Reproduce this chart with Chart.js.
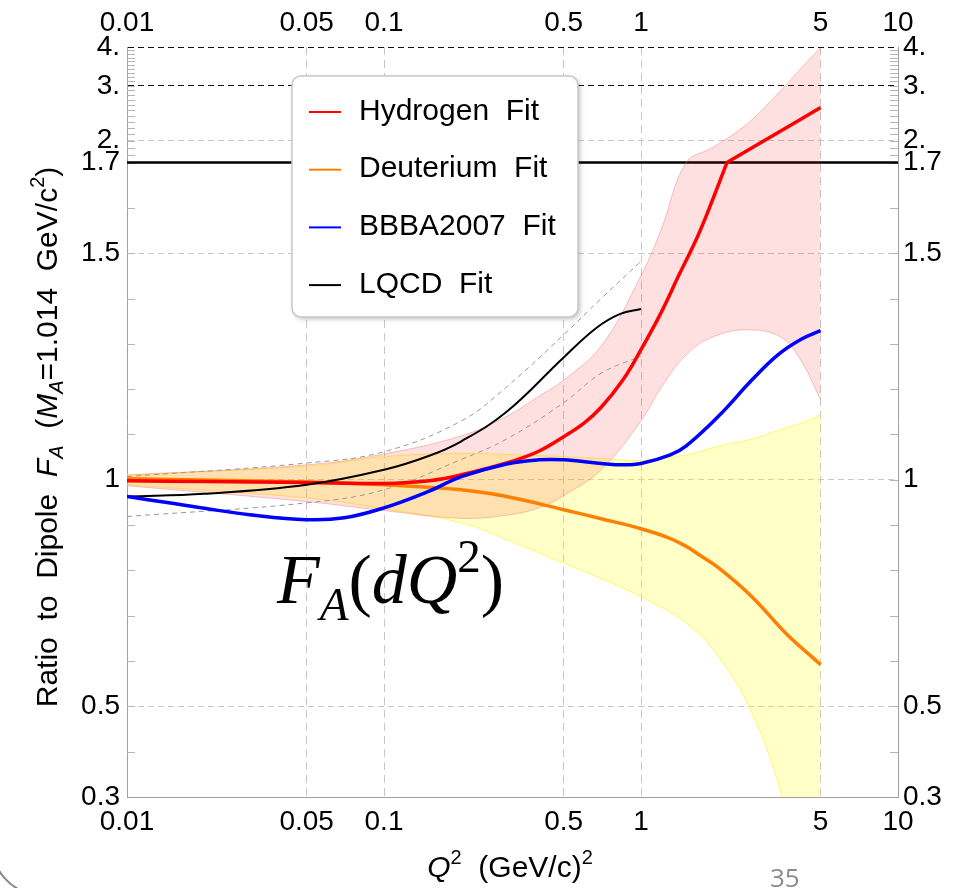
<!DOCTYPE html>
<html>
<head>
<meta charset="utf-8">
<script src="https://cdn.jsdelivr.net/npm/chart.js@4/dist/chart.umd.min.js"></script>
<style>
  body { margin: 0; background: #fff; }
  #wrap { width: 963px; height: 888px; }
</style>
</head>
<body>
<div id="wrap"><canvas id="chart" width="963" height="888"></canvas></div>
<script>
// axis ticks
const xTickValues = [0.01, 0.05, 0.1, 0.5, 1, 5, 10];
const xTickLabels = ["0.01", "0.05", "0.1", "0.5", "1", "5", "10"];
const yTickValues = [0.3, 0.5, 1, 1.5, 1.7, 2, 3, 4];
const yTickLabels = ["0.3", "0.5", "1", "1.5", "1.7", "2.", "3.", "4."];

// Hydrogen fit and its error band
const hydrogenQ2 = [0.01, 0.02, 0.05, 0.1, 0.15, 0.2, 0.3, 0.4, 0.5, 0.6, 0.7, 0.85, 1, 1.2, 1.4, 1.66, 1.9, 2.16, 3, 4, 5];
const hydrogenRatio = [0.998, 0.996, 0.994, 0.992, 0.998, 1.011, 1.037, 1.063, 1.095, 1.125, 1.16, 1.22, 1.287, 1.37, 1.45, 1.537, 1.618, 1.7, 1.995, 2.29, 2.555];
const hydrogenBandQ2 = [0.01, 0.05, 0.1, 0.2, 0.3, 0.4, 0.5, 0.7, 1, 1.2, 1.5, 1.9, 2.6, 3.5, 4.2, 5];
const hydrogenBandHigh = [1.01, 1.033, 1.057, 1.097, 1.14, 1.184, 1.22, 1.295, 1.45, 1.553, 1.7, 1.9, 2.27, 2.9, 3.42, 3.98];
const hydrogenBandLow = [0.987, 0.952, 0.932, 0.915, 0.922, 0.938, 0.965, 1.022, 1.13, 1.204, 1.276, 1.315, 1.331, 1.315, 1.262, 1.177];

// Deuterium fit and its error band
const deuteriumQ2 = [0.01, 0.05, 0.1, 0.2, 0.3, 0.5, 0.7, 1, 1.28, 1.5, 1.7, 2, 2.7, 3.65, 5];
const deuteriumRatio = [1.002, 0.995, 0.989, 0.978, 0.963, 0.934, 0.914, 0.892, 0.872, 0.853, 0.833, 0.806, 0.742, 0.662, 0.592];
const deuteriumBandQ2 = [0.01, 0.05, 0.1, 0.2, 0.3, 0.5, 0.7, 1, 1.5, 2, 2.7, 3.55, 4.2, 5];
const deuteriumBandHigh = [1.011, 1.03, 1.051, 1.058, 1.056, 1.051, 1.047, 1.043, 1.055, 1.074, 1.09, 1.112, 1.125, 1.143];
const deuteriumBandLow = [0.989, 0.96, 0.936, 0.905, 0.868, 0.816, 0.782, 0.742, 0.684, 0.61, 0.486, 0.3, 0.12, -0.15];

// BBBA2007
const bbbaQ2 = [0.01, 0.015, 0.02, 0.03, 0.05, 0.07, 0.1, 0.15, 0.2, 0.3, 0.4, 0.5, 0.7, 0.85, 1, 1.3, 1.5, 2, 2.7, 3.4, 4.2, 5];
const bbbaRatio = [0.963, 0.948, 0.937, 0.923, 0.912, 0.916, 0.938, 0.975, 1.007, 1.035, 1.044, 1.044, 1.036, 1.033, 1.036, 1.055, 1.075, 1.14, 1.22, 1.275, 1.31, 1.329];

// LQCD fit and its dashed band
const lqcdQ2 = [0.01, 0.02, 0.05, 0.1, 0.15, 0.2, 0.3, 0.5, 0.67, 0.83, 1];
const lqcdRatio = [0.963, 0.969, 0.989, 1.022, 1.053, 1.085, 1.15, 1.27, 1.335, 1.366, 1.377];
const lqcdBandQ2 = [0.01, 0.05, 0.1, 0.2, 0.3, 0.5, 0.7, 1];
const lqcdBandHigh = [1.007, 1.037, 1.062, 1.13, 1.205, 1.32, 1.4, 1.482];
const lqcdBandLow = [0.919, 0.949, 0.978, 1.045, 1.09, 1.17, 1.235, 1.273];

// y axis: linear up to 1.7, compressed (log) above it
const Y_BREAK = 1.7;
const Y_LOG_K = 0.298;
function toAxis(v) {
  return v <= Y_BREAK ? v : Y_BREAK + Y_LOG_K * Math.log(v / Y_BREAK);
}
const Y_MIN = 0.3;
const Y_MAX = toAxis(4);

const SANS = "'Liberation Sans', Arial, sans-serif";
const SERIF = "'Liberation Serif', 'Times New Roman', serif";
Chart.defaults.font.family = SANS;
const tickFont = { family: SANS, size: 28 };

function pts(xs, ys) {
  return xs.map((x, i) => ({ x: x, y: toAxis(ys[i]) }));
}

function curve(label, xs, ys, color, width, order, extra) {
  return Object.assign({
    label: label,
    data: pts(xs, ys),
    borderColor: color,
    borderWidth: width,
    pointRadius: 0,
    fill: false,
    tension: 0.4,
    order: order
  }, extra || {});
}

// the hydrogen line has a corner where it crosses the scale break
const hBreak = hydrogenRatio.indexOf(Y_BREAK) + 1;

const datasets = [
  curve("Deuterium band high", deuteriumBandQ2, deuteriumBandHigh, "rgba(255,245,90,0.9)", 1, 11),
  curve("Deuterium band low", deuteriumBandQ2, deuteriumBandLow, "rgba(255,245,90,0.9)", 1, 11,
    { fill: "-1", backgroundColor: "rgba(255,255,0,0.22)" }),
  curve("Hydrogen band high", hydrogenBandQ2, hydrogenBandHigh, "rgba(240,120,120,0.45)", 1, 10),
  curve("Hydrogen band low", hydrogenBandQ2, hydrogenBandLow, "rgba(240,120,120,0.45)", 1, 10,
    { fill: "-1", backgroundColor: "rgba(255,0,0,0.12)" }),
  curve("LQCD band high", lqcdBandQ2, lqcdBandHigh, "#999", 1, 9, { borderDash: [5, 4] }),
  curve("LQCD band low", lqcdBandQ2, lqcdBandLow, "#999", 1, 9, { borderDash: [5, 4] }),
  curve("Hydrogen Fit", hydrogenQ2.slice(0, hBreak), hydrogenRatio.slice(0, hBreak), "#ff0000", 3.5, 3, { inLegend: true }),
  curve("Hydrogen Fit above break", hydrogenQ2.slice(hBreak - 1), hydrogenRatio.slice(hBreak - 1), "#ff0000", 3.5, 3, { tension: 0 }),
  curve("Deuterium Fit", deuteriumQ2, deuteriumRatio, "#ff8000", 3.5, 4, { inLegend: true }),
  curve("BBBA2007 Fit", bbbaQ2, bbbaRatio, "#0000ff", 3.5, 1, { inLegend: true }),
  curve("LQCD Fit", lqcdQ2, lqcdRatio, "#000000", 2, 2, { inLegend: true })
];

function roundRectPath(ctx, x, y, w, h, r) {
  ctx.beginPath();
  ctx.moveTo(x + r, y);
  ctx.lineTo(x + w - r, y);
  ctx.arcTo(x + w, y, x + w, y + r, r);
  ctx.lineTo(x + w, y + h - r);
  ctx.arcTo(x + w, y + h, x + w - r, y + h, r);
  ctx.lineTo(x + r, y + h);
  ctx.arcTo(x, y + h, x, y + h - r, r);
  ctx.lineTo(x, y + r);
  ctx.arcTo(x, y, x + r, y, r);
  ctx.closePath();
}

function drawRich(ctx, parts, x, y, align) {
  let w = 0;
  parts.forEach(p => { ctx.font = p.font; p.w = ctx.measureText(p.t).width; w += p.w; });
  let cx = align === "center" ? x - w / 2 : x;
  ctx.textAlign = "left";
  ctx.textBaseline = "alphabetic";
  parts.forEach(p => {
    ctx.font = p.font;
    ctx.fillText(p.t, cx, y + (p.dy || 0));
    cx += p.w;
  });
}

const decor = {
  id: "decor",
  beforeDatasetsDraw(chart) {
    const { ctx, chartArea: a, scales } = chart;
    const y = scales.y;
    ctx.save();
    // minor ticks, inside both vertical axes
    ctx.strokeStyle = "#b4b4b4";
    ctx.lineWidth = 1;
    ctx.beginPath();
    for (let k = 4; k < 40; k++) {
      const py = Math.round(y.getPixelForValue(toAxis(k / 10))) + 0.5;
      ctx.moveTo(a.left, py); ctx.lineTo(a.left + 8, py);
      ctx.moveTo(a.right - 8, py); ctx.lineTo(a.right, py);
    }
    ctx.stroke();
    // solid line where the scale changes
    const yb = y.getPixelForValue(Y_BREAK);
    ctx.strokeStyle = "#000";
    ctx.lineWidth = 2.5;
    ctx.beginPath();
    ctx.moveTo(a.left, yb);
    ctx.lineTo(a.right, yb);
    ctx.stroke();
    ctx.restore();
  },
  afterDatasetsDraw(chart) {
    const ctx = chart.ctx;
    const items = chart.data.datasets.filter(d => d.inLegend);
    const bx = 292, by = 76, bw = 286, bh = 241;
    ctx.save();
    ctx.shadowColor = "rgba(0,0,0,0.25)";
    ctx.shadowBlur = 5;
    ctx.shadowOffsetX = 2;
    ctx.shadowOffsetY = 2;
    roundRectPath(ctx, bx, by, bw, bh, 9);
    ctx.fillStyle = "#fff";
    ctx.fill();
    ctx.shadowColor = "transparent";
    ctx.strokeStyle = "#c8c8c8";
    ctx.lineWidth = 1.5;
    ctx.stroke();
    items.forEach((d, i) => {
      const ry = by + 36 + i * 57.7;
      ctx.strokeStyle = d.borderColor;
      ctx.lineWidth = 2;
      ctx.beginPath();
      ctx.moveTo(bx + 17, ry);
      ctx.lineTo(bx + 49, ry);
      ctx.stroke();
      ctx.fillStyle = "#000";
      ctx.font = "30px " + SANS;
      ctx.textAlign = "left";
      ctx.textBaseline = "alphabetic";
      ctx.fillText(d.label.split(" ").join("  "), bx + 67, ry + 7.5);
    });
    ctx.restore();
  },
  afterDraw(chart) {
    const ctx = chart.ctx;
    const n30 = "30px " + SANS, i30 = "italic 30px " + SANS;
    const n20 = "20px " + SANS, i20 = "italic 20px " + SANS;
    ctx.save();
    ctx.fillStyle = "#000";
    // y axis title
    ctx.save();
    ctx.translate(57, 437);
    ctx.rotate(-Math.PI / 2);
    drawRich(ctx, [
      { t: "Ratio  to  Dipole  ", font: n30 },
      { t: "F", font: i30 },
      { t: "A", font: i20, dy: 6 },
      { t: "  (", font: n30 },
      { t: "M", font: i30 },
      { t: "A", font: i20, dy: 6 },
      { t: "=1.014  GeV/", font: n30 },
      { t: "c", font: n30 },
      { t: "2", font: n20, dy: -13 },
      { t: ")", font: n30 }
    ], 0, 0, "center");
    ctx.restore();
    // x axis title
    drawRich(ctx, [
      { t: "Q", font: i30 },
      { t: "2", font: n20, dy: -13 },
      { t: "  (GeV/c)", font: n30 },
      { t: "2", font: n20, dy: -13 }
    ], 510, 877, "center");
    // annotation
    drawRich(ctx, [
      { t: "F", font: "italic 70px " + SERIF },
      { t: "A", font: "italic 47px " + SERIF, dy: 17 },
      { t: "(", font: "70px " + SERIF },
      { t: "d", font: "italic 70px " + SERIF },
      { t: "Q", font: "italic 70px " + SERIF },
      { t: "2", font: "47px " + SERIF, dy: -31 },
      { t: ")", font: "70px " + SERIF }
    ], 277, 603, "left");
    // slide page number and frame corner
    ctx.fillStyle = "#8c8c8c";
    ctx.font = "26px 'Open Sans', sans-serif";
    ctx.fillText("35", 770, 887);
    ctx.strokeStyle = "#888";
    ctx.lineWidth = 2;
    ctx.beginPath();
    ctx.arc(42, 845, 50, Math.PI * 0.98, Math.PI * 0.55, true);
    ctx.stroke();
    ctx.restore();
  }
};

function fixedTicks(values) {
  return scale => { scale.ticks = values.map(v => ({ value: v })); };
}

new Chart(document.getElementById("chart"), {
  type: "line",
  data: { datasets: datasets },
  options: {
    responsive: false,
    animation: false,
    layout: { padding: 0 },
    plugins: { legend: { display: false }, tooltip: { enabled: false } },
    scales: {
      x: {
        type: "logarithmic",
        position: "bottom",
        min: 0.01,
        max: 10,
        afterBuildTicks: fixedTicks(xTickValues),
        afterFit: s => { s.height = 91; },
        ticks: { callback: (v, i) => xTickLabels[i], autoSkip: false, maxRotation: 0, padding: 8, font: tickFont, color: "#000" },
        grid: {
          drawTicks: false,
          lineWidth: 1,
          color: c => (c.index === 0 || c.index === xTickValues.length - 1) ? "rgba(0,0,0,0)" : "#c8c8c8"
        },
        border: { color: "#a0a0a0", width: 1, dash: [8, 5] }
      },
      x2: {
        type: "logarithmic",
        position: "top",
        min: 0.01,
        max: 10,
        afterBuildTicks: fixedTicks(xTickValues),
        afterFit: s => { s.height = 47; },
        ticks: { callback: (v, i) => xTickLabels[i], autoSkip: false, maxRotation: 0, padding: 7, font: tickFont, color: "#000" },
        grid: { display: false, drawTicks: false },
        border: { display: false }
      },
      y: {
        type: "linear",
        position: "left",
        min: Y_MIN,
        max: Y_MAX,
        afterBuildTicks: scale => { scale.ticks = yTickValues.map(v => ({ value: toAxis(v) })); },
        afterFit: s => { s.width = 127; },
        ticks: { callback: (v, i) => yTickLabels[i], autoSkip: false, padding: 7, font: tickFont, color: "#000" },
        grid: {
          drawTicks: false,
          lineWidth: 1,
          color: c => {
            const v = yTickValues[c.index];
            if (v === 0.3 || v === 1.7) return "rgba(0,0,0,0)";
            return v >= 3 ? "#111" : "#c8c8c8";
          }
        },
        border: { color: "#a0a0a0", width: 1, dash: [6, 4] }
      },
      y2: {
        type: "linear",
        position: "right",
        min: Y_MIN,
        max: Y_MAX,
        afterBuildTicks: scale => { scale.ticks = yTickValues.map(v => ({ value: toAxis(v) })); },
        afterFit: s => { s.width = 65; },
        ticks: { callback: (v, i) => yTickLabels[i], autoSkip: false, padding: 5, font: tickFont, color: "#000" },
        grid: { display: false, drawTicks: false },
        border: { color: "#a0a0a0", width: 1 }
      }
    }
  },
  plugins: [decor]
});
</script>
</body>
</html>
